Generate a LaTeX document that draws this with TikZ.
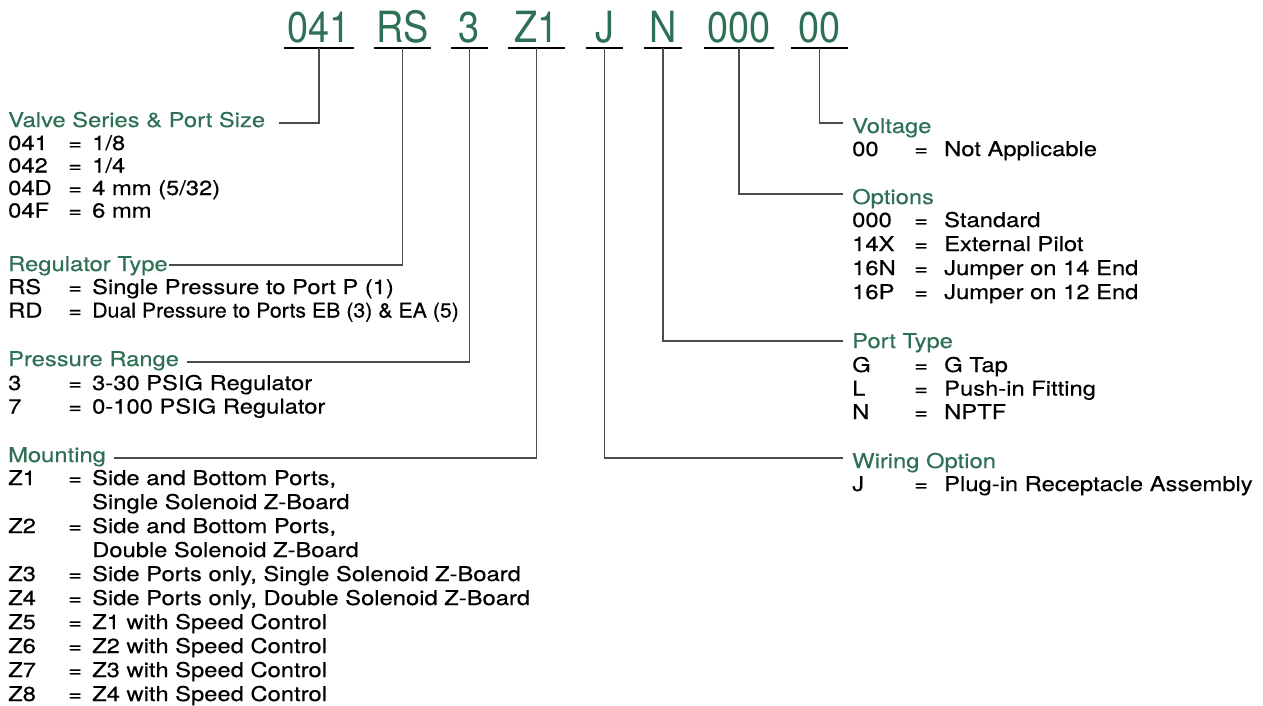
\documentclass[tikz,border=0pt]{standalone}
\usepackage{fontspec}
\setmainfont{TeX Gyre Heros}[FakeStretch=1.17,FakeBold=0.3]
\newfontfamily\codefont{TeX Gyre Heros}[FakeStretch=0.88]
\newfontfamily\tightfont{TeX Gyre Heros}[FakeStretch=1.05,FakeBold=0.3]
\usetikzlibrary{positioning}
\definecolor{codegreen}{RGB}{46,112,84}
\newcommand{\bodysize}{\fontsize{20.3}{23.5}\selectfont}

\begin{document}
\begin{tikzpicture}[x=1pt,y=-1pt,
  code/.style={font=\codefont\fontsize{43}{43}\selectfont,text=codegreen,anchor=base,inner xsep=0pt,inner ysep=6pt,text depth=0pt},
  uline/.style={line width=2pt},
  lead/.style={line width=1.1pt,draw=black!70},
  hdr/.style={font=\bodysize,text=codegreen,anchor=base west,inner sep=0pt},
  body/.style={font=\bodysize,anchor=base west,inner sep=0pt}]
\useasboundingbox (0,0) rectangle (1263,705);
% part number
\foreach \n/\t/\cx/\w in {c041/041/319/70pt,cRS/RS/402.5/57pt,c3/3/469.5/37pt,cZ1/Z1/536.5/57pt,
    cJ/J/604.5/37pt,cN/N/663/38pt,c000/000/739/70pt,c00/00/819.5/57pt}
  \node[code,minimum width=\w] (\n) at (\cx,42) {\t};
\foreach \n in {c041,cRS,c3,cZ1,cJ,cN,c000,c00}
  \draw[uline] (\n.south west) -- (\n.south east);
% left column
\node[hdr] (hValve) at (8,127) {Valve Series \& Port Size};
\node[body,font=\fontsize{20.3}{22.5}\selectfont] (tValve) at (8,150) {\begin{tabular}[t]{@{}p{60pt}@{}p{24pt}@{}l@{}}
  041 & = & 1/8\\ 042 & = & 1/4\\ 04D & = & 4 mm (5/32)\\ 04F & = & 6 mm\end{tabular}};
\node[hdr] (hReg) at (8,271) {Regulator Type};
\node[body] (tReg) at (8,294) {\begin{tabular}[t]{@{}p{60pt}@{}p{24pt}@{}l@{}}
  RS & = & Single Pressure to Port P (1)\\ RD & = & {\tightfont Dual Pressure to Ports EB (3) \& EA (5)}\end{tabular}};
\node[hdr] (hPress) at (8,366) {Pressure Range};
\node[body] (tPress) at (8,390) {\begin{tabular}[t]{@{}p{60pt}@{}p{24pt}@{}l@{}}
  3 & = & 3-30 PSIG Regulator\\ 7 & = & 0-100 PSIG Regulator\end{tabular}};
\node[hdr] (hMount) at (8,462) {Mounting};
\node[body,font=\fontsize{20.3}{24}\selectfont] (tMount) at (8,485) {\begin{tabular}[t]{@{}p{60pt}@{}p{24pt}@{}l@{}}
  Z1 & = & Side and Bottom Ports,\\ & & Single Solenoid Z-Board\\
  Z2 & = & Side and Bottom Ports,\\ & & Double Solenoid Z-Board\\
  Z3 & = & Side Ports only, Single Solenoid Z-Board\\
  Z4 & = & Side Ports only, Double Solenoid Z-Board\\
  Z5 & = & Z1 with Speed Control\\ Z6 & = & Z2 with Speed Control\\
  Z7 & = & Z3 with Speed Control\\ Z8 & = & Z4 with Speed Control\end{tabular}};
% right column
\node[hdr] (hVolt) at (852,133) {Voltage};
\node[body] (tVolt) at (852,156) {\begin{tabular}[t]{@{}p{62pt}@{}p{30pt}@{}l@{}}
  00 & = & Not Applicable\end{tabular}};
\node[hdr] (hOpt) at (852,204) {Options};
\node[body,font=\fontsize{20.3}{24}\selectfont] (tOpt) at (852,227) {\begin{tabular}[t]{@{}p{62pt}@{}p{30pt}@{}l@{}}
  000 & = & Standard\\ 14X & = & External Pilot\\ 16N & = & Jumper on 14 End\\ 16P & = & Jumper on 12 End\end{tabular}};
\node[hdr] (hPort) at (852,348) {Port Type};
\node[body] (tPort) at (852,372) {\begin{tabular}[t]{@{}p{62pt}@{}p{30pt}@{}l@{}}
  G & = & G Tap\\ L & = & Push-in Fitting\\ N & = & NPTF\end{tabular}};
\node[hdr] (hWire) at (852,468) {Wiring Option};
\node[body] (tWire) at (852,491) {\begin{tabular}[t]{@{}p{62pt}@{}p{30pt}@{}l@{}}
  J & = & Plug-in Receptacle Assembly\end{tabular}};
% leaders
\draw[lead] (c041.south) |- ([xshift=14pt,yshift=4pt]hValve.base east);
\draw[lead] (cRS.south) |- ([xshift=1pt,yshift=6pt]hReg.base east);
\draw[lead] (c3.south) |- ([xshift=8pt,yshift=4pt]hPress.base east);
\draw[lead] (cZ1.south) |- ([xshift=8pt,yshift=4pt]hMount.base east);
\draw[lead] (cJ.south) |- ([xshift=-9pt,yshift=10pt]hWire.base west);
\draw[lead] (cN.south) |- ([xshift=-9pt,yshift=7pt]hPort.base west);
\draw[lead] (c000.south) |- ([xshift=-9pt,yshift=10pt]hOpt.base west);
\draw[lead] (c00.south) |- ([xshift=-9pt,yshift=10pt]hVolt.base west);
\end{tikzpicture}
\end{document}
